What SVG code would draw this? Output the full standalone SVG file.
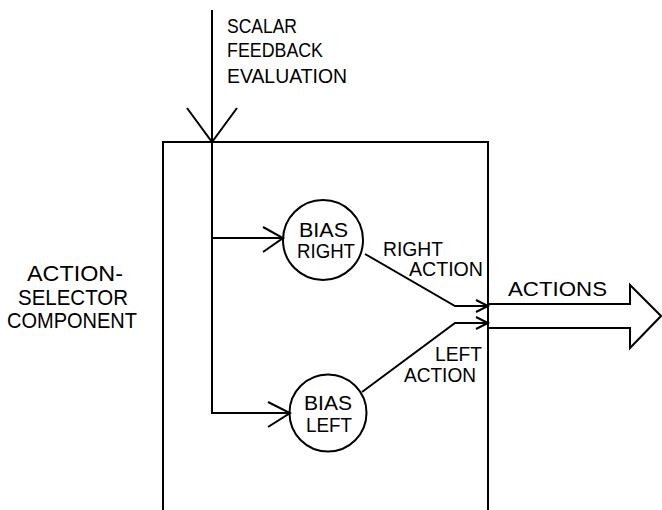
<svg xmlns="http://www.w3.org/2000/svg" width="662" height="510" viewBox="0 0 662 510">
<style>
.ln{fill:none;stroke:#000;stroke-width:2;stroke-linejoin:miter;stroke-linecap:butt}
.t{font-family:"Liberation Sans","Arial",sans-serif;fill:#000}
.s19{font-size:19.5px}
.s21{font-size:21.5px}
</style>
<rect width="662" height="510" fill="#fff"/>
<g id="box">
<path class="ln" d="M163,510 V142 H488 V510"/>
</g>
<g id="label-component">
<text class="t s21" x="27" y="281" textLength="96" lengthAdjust="spacingAndGlyphs">ACTION-</text>
<text class="t s21" x="18" y="305" textLength="110" lengthAdjust="spacingAndGlyphs">SELECTOR</text>
<text class="t s21" x="7" y="328" textLength="130" lengthAdjust="spacingAndGlyphs">COMPONENT</text>
</g>
<g id="label-feedback">
<text class="t s19" x="227" y="33" textLength="70" lengthAdjust="spacingAndGlyphs">SCALAR</text>
<text class="t s19" x="227" y="57" textLength="96" lengthAdjust="spacingAndGlyphs">FEEDBACK</text>
<text class="t s19" x="227" y="83" textLength="120" lengthAdjust="spacingAndGlyphs">EVALUATION</text>
</g>
<g id="bias-right">
<circle class="ln" cx="323" cy="240" r="40"/>
<text class="t s19" x="299" y="237" textLength="49" lengthAdjust="spacingAndGlyphs">BIAS</text>
<text class="t s19" x="297" y="258" textLength="58" lengthAdjust="spacingAndGlyphs">RIGHT</text>
</g>
<g id="bias-left">
<circle class="ln" cx="328" cy="413" r="38.5"/>
<text class="t s19" x="304" y="410" textLength="48" lengthAdjust="spacingAndGlyphs">BIAS</text>
<text class="t s19" x="306" y="432" textLength="46" lengthAdjust="spacingAndGlyphs">LEFT</text>
</g>
<g id="label-right-action">
<text class="t s19" x="383" y="256" textLength="60" lengthAdjust="spacingAndGlyphs">RIGHT</text>
<text class="t s19" x="409" y="276" textLength="74" lengthAdjust="spacingAndGlyphs">ACTION</text>
</g>
<g id="label-left-action">
<text class="t s19" x="435" y="361" textLength="47" lengthAdjust="spacingAndGlyphs">LEFT</text>
<text class="t s19" x="404" y="382" textLength="72" lengthAdjust="spacingAndGlyphs">ACTION</text>
</g>
<g id="actions">
<path class="ln" d="M488,304 H630 V285 L661,316 L630,348 V328 H488"/>
<text class="t s19" x="508" y="296" textLength="99" lengthAdjust="spacingAndGlyphs">ACTIONS</text>
</g>
<g id="connectors">
<path class="ln" d="M212,10 V413 H290"/>
<path class="ln" d="M187,108 L212,142 L237,108"/>
<path class="ln" d="M212,238 H283"/>
<path class="ln" d="M263,227 L283,238 L263,252"/>
<path class="ln" d="M268,402 L290,413 L268,427"/>
<path class="ln" d="M365,254 L455,306 H488"/>
<path class="ln" d="M476,300 L488,306 L476,312"/>
<path class="ln" d="M362,392 L455,323 H488"/>
<path class="ln" d="M476,317 L488,323 L476,329"/>
</g>
</svg>
